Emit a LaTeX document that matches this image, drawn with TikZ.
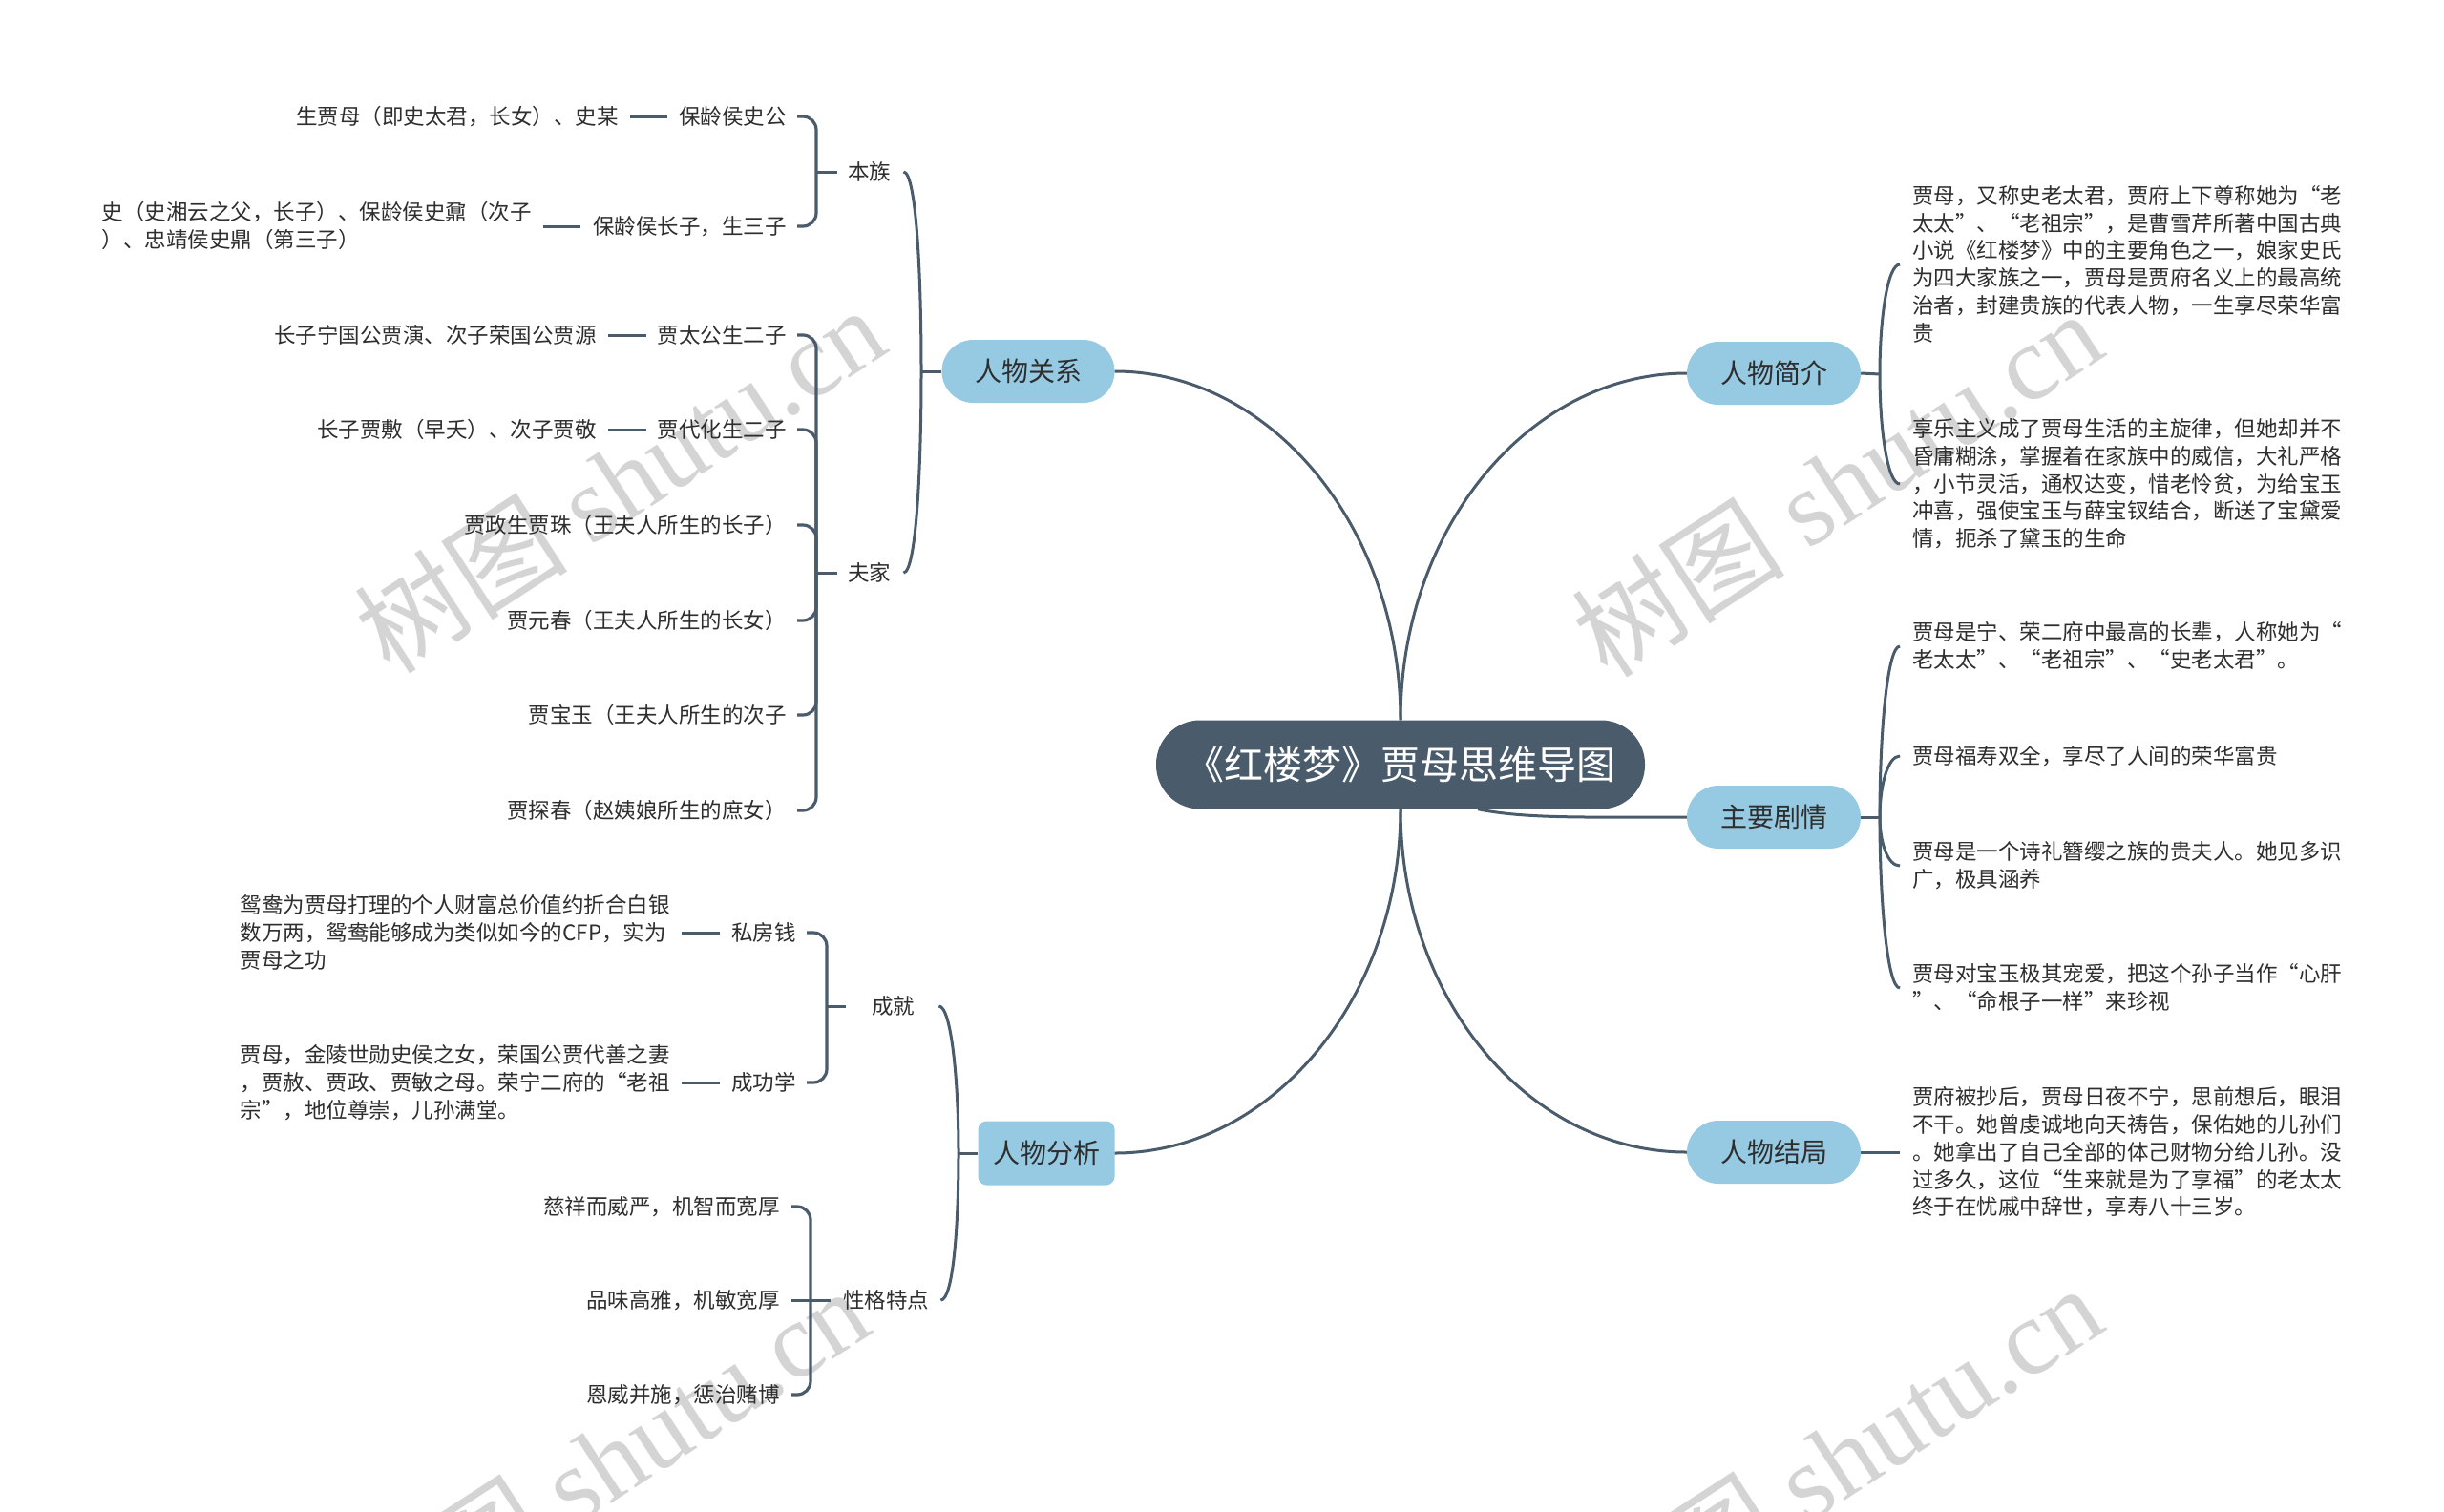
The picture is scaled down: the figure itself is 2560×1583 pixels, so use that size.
\documentclass[tikz,border=0pt]{standalone}
\usepackage{fontspec}
\setmainfont{Noto Sans CJK SC}
\newfontfamily\wmserif{Liberation Serif}
\definecolor{lc}{HTML}{4A5B6B}
\definecolor{nb}{HTML}{96CAE2}
\definecolor{tc}{HTML}{2E2E2E}
\definecolor{wm}{HTML}{D4D4D4}
\newcommand\zstrut{\rule[-0.12em]{0pt}{1em}}
\tikzset{
  conn/.style={draw=lc, line width=3pt},
  brk/.style={draw=lc, line width=3.2pt, rounded corners=14pt},
  mainnode/.style={fill=nb, text=tc, font=\fontsize{28}{34}\selectfont, minimum width=182pt,
    minimum height=66pt, rounded corners=33pt, inner sep=0pt, execute at begin node=\zstrut},
  leaf/.style={text=tc, font=\fontsize{22.5}{28.8}\selectfont, inner sep=0pt, align=left,
    execute at begin node=\zstrut, execute at end node=\zstrut},
  wmark/.style={text=wm, rotate=33, inner sep=0pt, font=\fontsize{112}{112}\selectfont},
}
\begin{document}
\begin{tikzpicture}[x=1pt, y=-1pt]
\fill[white] (0,0) rectangle (2560,1583);
\useasboundingbox (0,0) rectangle (2560,1583);

% watermarks
\node[wmark] (wm1) at (649,502) {树图 {\wmserif shutu.cn}};
\node[wmark] (wm2) at (1924,506) {树图 {\wmserif shutu.cn}};
\node[wmark] (wm3) at (632,1530) {树图 {\wmserif shutu.cn}};
\node[wmark] (wm4) at (1924,1527) {树图 {\wmserif shutu.cn}};

% central and main nodes
\node[fill=lc, text=white, minimum width=512pt, minimum height=93pt, rounded corners=46pt,
  inner sep=0pt, font=\fontsize{41}{48}\selectfont, execute at begin node=\zstrut] (title) at (1467,801) {《红楼梦》贾母思维导图};
\node[mainnode, minimum width=181pt] (rel) at (1077,389) {人物关系};
\node[mainnode, minimum width=143pt, minimum height=67pt, rounded corners=9pt] (ana) at (1096,1208) {人物分析};
\node[mainnode] (intro) at (1858,391) {人物简介};
\node[mainnode] (plot) at (1858,856) {主要剧情};
\node[mainnode] (fate) at (1858,1207) {人物结局};

% level 2 labels (left)
\node[leaf, anchor=west] (bz) at (888,180) {本族};
\node[leaf, anchor=west] (fj) at (888,600) {夫家};
\node[leaf, anchor=west] (cj) at (913,1054) {成就};
\node[leaf, anchor=west] (xg) at (883,1362) {性格特点};

% 本族 children
\node[leaf, anchor=east] (b1) at (824,122) {保龄侯史公};
\node[leaf, anchor=east] (b2) at (824,237) {保龄侯长子，生三子};
\node[leaf, anchor=east] (bg1) at (648,122) {生贾母（即史太君，长女）、史某};
\node[leaf, anchor=east] (bg2) at (557,237) {史（史湘云之父，长子）、保龄侯史鼐（次子\\）、忠靖侯史鼎（第三子）};

% 夫家 children
\node[leaf, anchor=east] (f1) at (824,351) {贾太公生二子};
\node[leaf, anchor=east] (f2) at (824,450) {贾代化生二子};
\node[leaf, anchor=east] (f3) at (824,550) {贾政生贾珠（王夫人所生的长子）};
\node[leaf, anchor=east] (f4) at (824,650) {贾元春（王夫人所生的长女）};
\node[leaf, anchor=east] (f5) at (824,749) {贾宝玉（王夫人所生的次子};
\node[leaf, anchor=east] (f6) at (824,849) {贾探春（赵姨娘所生的庶女）};
\node[leaf, anchor=east] (fg1) at (625,351) {长子宁国公贾演、次子荣国公贾源};
\node[leaf, anchor=east] (fg2) at (625,450) {长子贾敷（早夭）、次子贾敬};

% 成就 children
\node[leaf, anchor=east] (s1) at (834,977) {私房钱};
\node[leaf, anchor=east] (s2) at (834,1134) {成功学};
\node[leaf, anchor=east] (sg1) at (702,977) {鸳鸯为贾母打理的个人财富总价值约折合白银\\数万两，鸳鸯能够成为类似如今的CFP，实为\\贾母之功};
\node[leaf, anchor=east] (sg2) at (702,1134) {贾母，金陵世勋史侯之女，荣国公贾代善之妻\\，贾赦、贾政、贾敏之母。荣宁二府的“老祖\\宗”，地位尊崇，儿孙满堂。};

% 性格特点 children
\node[leaf, anchor=east] (x1) at (817,1264) {慈祥而威严，机智而宽厚};
\node[leaf, anchor=east] (x2) at (817,1362) {品味高雅，机敏宽厚};
\node[leaf, anchor=east] (x3) at (817,1461) {恩威并施，惩治赌博};

% right side texts
\node[leaf, anchor=west] (i1) at (2003,277) {贾母，又称史老太君，贾府上下尊称她为“老\\太太”、“老祖宗”，是曹雪芹所著中国古典\\小说《红楼梦》中的主要角色之一，娘家史氏\\为四大家族之一，贾母是贾府名义上的最高统\\治者，封建贵族的代表人物，一生享尽荣华富\\贵};
\node[leaf, anchor=west] (i2) at (2003,507) {享乐主义成了贾母生活的主旋律，但她却并不\\昏庸糊涂，掌握着在家族中的威信，大礼严格\\，小节灵活，通权达变，惜老怜贫，为给宝玉\\冲喜，强使宝玉与薛宝钗结合，断送了宝黛爱\\情，扼杀了黛玉的生命};
\node[leaf, anchor=west] (p1) at (2003,677) {贾母是宁、荣二府中最高的长辈，人称她为“\\老太太”、“老祖宗”、“史老太君”。};
\node[leaf, anchor=west] (p2) at (2003,792) {贾母福寿双全，享尽了人间的荣华富贵};
\node[leaf, anchor=west] (p3) at (2003,907) {贾母是一个诗礼簪缨之族的贵夫人。她见多识\\广，极具涵养};
\node[leaf, anchor=west] (p4) at (2003,1035) {贾母对宝玉极其宠爱，把这个孙子当作“心肝\\”、“命根子一样”来珍视};
\node[leaf, anchor=west] (e1) at (2003,1207) {贾府被抄后，贾母日夜不宁，思前想后，眼泪\\不干。她曾虔诚地向天祷告，保佑她的儿孙们\\。她拿出了自己全部的体己财物分给儿孙。没\\过多久，这位“生来就是为了享福”的老太太\\终于在忧戚中辞世，享寿八十三岁。};

% connectors from the title
\draw[conn] (title.north) .. controls +(0,-201) and +(164,0) .. (rel.east);
\draw[conn] (title.north) .. controls +(0,-200) and +(-166,0) .. (intro.west);
\draw[conn] (title.south) .. controls +(0,198) and +(164,0) .. (ana.east);
\draw[conn] (title.south) .. controls +(0,198) and +(-166,0) .. (fate.west);
\draw[conn] ([xshift=81pt]title.south) .. controls +(50,10) and +(-110,0) .. (plot.west);

% 人物关系 bracket
\coordinate (jrel) at (965,389);
\draw[conn] (rel.west) -- (jrel);
\draw[conn] (jrel) .. controls +(0,-106) and +(13,0) .. ([xshift=13pt]bz.east);
\draw[conn] (jrel) .. controls +(0,105) and +(13,0) .. ([xshift=13pt]fj.east);

% 本族
\coordinate (jbz) at (855,180);
\draw[conn] (jbz) -- ([xshift=-11pt]bz.west);
\draw[brk] (jbz) |- ([xshift=11pt]b1.east);
\draw[brk] (jbz) |- ([xshift=11pt]b2.east);
\draw[conn] ([xshift=-12pt]b1.west) -- ([xshift=12pt]bg1.east);
\draw[conn] ([xshift=-13pt]b2.west) -- ([xshift=12pt]bg2.east);

% 夫家
\coordinate (jfj) at (855,600);
\draw[conn] (jfj) -- ([xshift=-11pt]fj.west);
\foreach \n in {f1,f2,f3,f4,f5,f6} {
  \draw[brk] (jfj) |- ([xshift=11pt]\n.east);
}
\draw[conn] ([xshift=-12pt]f1.west) -- ([xshift=12pt]fg1.east);
\draw[conn] ([xshift=-12pt]f2.west) -- ([xshift=12pt]fg2.east);

% 人物分析 bracket
\coordinate (jana) at (1004,1208);
\draw[conn] (ana.west) -- (jana);
\draw[conn] (jana) .. controls +(0,-77) and +(13,0) .. ([xshift=25pt]cj.east);
\draw[conn] (jana) .. controls +(0,77) and +(13,0) .. ([xshift=12pt]xg.east);

% 成就
\coordinate (jcj) at (866,1054);
\draw[conn] (jcj) -- ([xshift=-27pt]cj.west);
\draw[brk] (jcj) |- ([xshift=11pt]s1.east);
\draw[brk] (jcj) |- ([xshift=11pt]s2.east);
\draw[conn] ([xshift=-12pt]s1.west) -- ([xshift=12pt]sg1.east);
\draw[conn] ([xshift=-12pt]s2.west) -- ([xshift=12pt]sg2.east);

% 性格特点
\coordinate (jxg) at (849,1362);
\draw[conn] (jxg) -- ([xshift=-13pt]xg.west);
\draw[brk] (jxg) |- ([xshift=12pt]x1.east);
\draw[conn] (jxg) -- ([xshift=12pt]x2.east);
\draw[brk] (jxg) |- ([xshift=12pt]x3.east);

% 人物简介 bracket
\coordinate (jin) at (1969,392);
\draw[conn] (intro.east) -- (jin);
\draw[conn] (jin) .. controls +(0,-58) and +(-13,0) .. ([xshift=-13pt]i1.west);
\draw[conn] (jin) .. controls +(0,58) and +(-13,0) .. ([xshift=-13pt]i2.west);

% 主要剧情 bracket
\coordinate (jpl) at (1969,856);
\draw[conn] (plot.east) -- (jpl);
\draw[conn] (jpl) .. controls +(0,-90) and +(-13,0) .. ([xshift=-13pt]p1.west);
\draw[conn] (jpl) .. controls +(0,-32) and +(-13,0) .. ([xshift=-13pt]p2.west);
\draw[conn] (jpl) .. controls +(0,26) and +(-13,0) .. ([xshift=-13pt]p3.west);
\draw[conn] (jpl) .. controls +(0,90) and +(-13,0) .. ([xshift=-13pt]p4.west);

% 人物结局
\draw[conn] (fate.east) -- ([xshift=-13pt]e1.west);
\end{tikzpicture}
\end{document}
